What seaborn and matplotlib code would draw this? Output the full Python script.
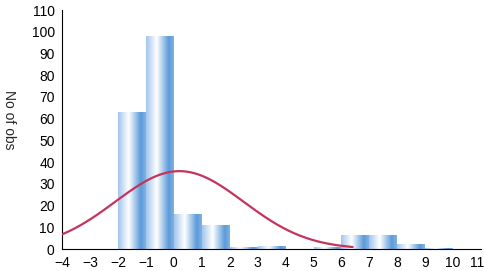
import numpy as np
import pandas as pd
import matplotlib
matplotlib.use("Agg")
import matplotlib.pyplot as plt
import matplotlib.transforms as mtransforms
from matplotlib.colors import LinearSegmentedColormap
import seaborn as sns

# histogram data (bin left edges, width 1)
bin_left = [-2, -1, 0, 1, 2, 3, 4, 5, 6, 7, 8, 9]
counts = [63, 98, 16, 11, 1, 1.3, 0, 1, 6.4, 6.3, 2.3, 0.4]

# fitted normal curve parameters
curve_mean = 0.2
curve_sd = 2.3
curve_end = 6.4

xticks = list(range(-4, 12))
yticks = list(range(0, 111, 10))

sns.set_style("white")
plt.rcParams['font.family'] = ['Liberation Sans Narrow', 'Liberation Sans', 'DejaVu Sans']

fig = plt.figure(figsize=(4.85, 2.71), dpi=100)
ax = fig.add_axes([0.128, 0.081, 0.864, 0.882])

df = pd.DataFrame({"x": np.array(bin_left) + 0.5, "n": counts})
sns.histplot(data=df, x="x", weights="n", binwidth=1, binrange=(-2, 10), ax=ax,
             color="#7fb0e0", alpha=1)

# cylinder-like gradient on each bar
grad = LinearSegmentedColormap.from_list(
    "bar", [(0, "#a4c6ec"), (0.38, "#ffffff"), (0.82, "#5b9ad9"), (1, "#80b2e3")])
g = np.linspace(0, 1, 64).reshape(1, -1)
for p in list(ax.patches):
    p.set_edgecolor("none")
    p.set_linewidth(0)
    x0, y0 = p.get_x(), p.get_y()
    w, h = p.get_width(), p.get_height()
    if h <= 0:
        continue
    im = ax.imshow(g, cmap=grad, aspect="auto", extent=[x0, x0 + w, y0, y0 + h],
                   zorder=2, interpolation="bilinear")
    im.set_clip_path(p)

# normal curve scaled to counts
n = sum(counts)
xs = np.linspace(-4, curve_end, 300)
ys = n / (curve_sd * np.sqrt(2 * np.pi)) * np.exp(-(xs - curve_mean) ** 2 / (2 * curve_sd ** 2))
sns.lineplot(x=xs, y=ys, ax=ax, color="#c4345c", linewidth=1.6, zorder=3)

ax.set_xlim(-4, 11)
ax.set_ylim(0, 110)
ax.set_xticks(xticks)
ax.set_yticks(yticks)
ax.tick_params(axis="both", direction="out", length=3.8, width=0.8, colors="black",
               labelsize=10, pad=1.5)
for s in ["top", "right"]:
    ax.spines[s].set_visible(False)
for s in ["left", "bottom"]:
    ax.spines[s].set_color("black")
    ax.spines[s].set_linewidth(0.8)

# keep the last x label inside the figure
last = ax.get_xticklabels()[-1]
last.set_transform(last.get_transform() + mtransforms.ScaledTranslation(-4 / 100, 0, fig.dpi_scale_trans))

ax.set_xlabel("")
ax.set_ylabel("No of obs", rotation=-90, fontsize=10, labelpad=14)
ax.yaxis.set_label_coords(-0.143, 0.54)

fig.savefig("out.png", dpi=100)
